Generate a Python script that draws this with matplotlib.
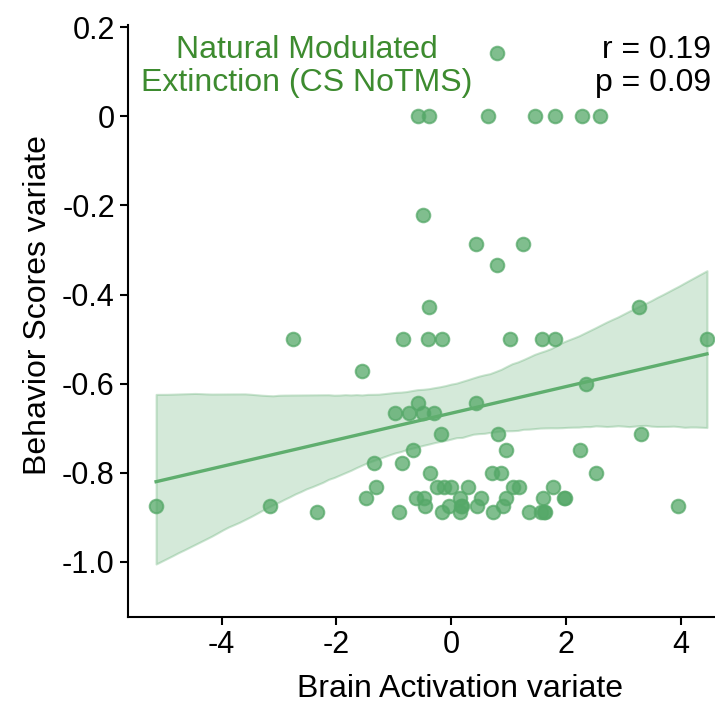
import numpy as np
import matplotlib
matplotlib.use("Agg")
import matplotlib.pyplot as plt
import seaborn as sns

# brain activation variate (x) and behaviour scores variate (y)
brain = [-0.58, -0.38, 0.65, 1.47, 1.82, 2.29, 2.60,
         0.80,
         -0.49,
         0.44, 1.25,
         0.80,
         -0.39, 3.27,
         -2.76, -0.83, -0.40, -0.15, 1.02, 1.59, 1.82, 4.46,
         -1.56,
         2.36,
         -0.57, 0.44,
         -0.97, -0.73, -0.49, -0.30,
         -0.18, 0.82, 3.31,
         -0.66, 0.96, 2.24,
         -1.34, -0.85,
         -0.36, 0.72, 0.87, 2.53,
         -1.30, -0.25, -0.12, 0.00, 0.29, 1.08, 1.19, 1.77,
         -1.49, -0.61, -0.47, 0.16, 0.53, 0.96, 1.60, 1.96, 1.98,
         -5.14, -3.15, -0.45, -0.04, 0.19, 0.46, 0.90, 3.96, 0.17,
         -2.34, -0.90, -0.16, 0.15, 0.73, 1.35, 1.57, 1.64, 1.62]
behav = [0.0, 0.0, 0.0, 0.0, 0.0, 0.0, 0.0,
         0.143,
         -0.222,
         -0.286, -0.286,
         -0.333,
         -0.429, -0.429,
         -0.5, -0.5, -0.5, -0.5, -0.5, -0.5, -0.5, -0.5,
         -0.571,
         -0.6,
         -0.643, -0.643,
         -0.667, -0.667, -0.667, -0.667,
         -0.714, -0.714, -0.714,
         -0.75, -0.75, -0.75,
         -0.778, -0.778,
         -0.8, -0.8, -0.8, -0.8,
         -0.833, -0.833, -0.833, -0.833, -0.833, -0.833, -0.833, -0.833,
         -0.857, -0.857, -0.857, -0.857, -0.857, -0.857, -0.857, -0.857, -0.857,
         -0.875, -0.875, -0.875, -0.875, -0.875, -0.875, -0.875, -0.875, -0.875,
         -0.889, -0.889, -0.889, -0.889, -0.889, -0.889, -0.889, -0.889, -0.889]

xticks = [-4, -2, 0, 2, 4]
xticklabels = ["-4", "-2", "0", "2", "4"]
yticks = [0.2, 0, -0.2, -0.4, -0.6, -0.8, -1.0]
yticklabels = ["0.2", "0", "-0.2", "-0.4", "-0.6", "-0.8", "-1.0"]

title = "Natural Modulated\nExtinction (CS NoTMS)"
stats = "r = 0.19\np = 0.09"

plt.rcParams['font.family'] = ['Liberation Sans', 'DejaVu Sans']

fig = plt.figure(figsize=(7.15, 7.05), dpi=100)
ax = fig.add_axes([0.179, 0.125, 0.821, 0.840])

# scatter + fitted line with bootstrapped CI band
sns.regplot(x=np.array(brain), y=np.array(behav), ax=ax, color="#55a868", seed=1,
            scatter_kws=dict(s=95, alpha=0.75, linewidths=1.5),
            line_kws=dict(linewidth=2.4, color="#5fae6e"))
for coll in ax.collections[1:]:
    coll.set_alpha(None)
    coll.set_facecolor((0.333, 0.659, 0.408, 0.25))
    coll.set_edgecolor((0.333, 0.659, 0.408, 0.30))
    coll.set_linewidth(1.5)

ax.set_xlim(-5.63, 4.60)
ax.set_ylim(-1.124, 0.206)
ax.set_xticks(xticks)
ax.set_xticklabels(xticklabels)
ax.set_yticks(yticks)
ax.set_yticklabels(yticklabels)
ax.tick_params(labelsize=22, length=6, width=1.5)

ax.spines['top'].set_visible(False)
ax.spines['right'].set_visible(False)
ax.spines['left'].set_linewidth(1.5)
ax.spines['bottom'].set_linewidth(1.5)

ax.set_xlabel("Brain Activation variate", fontsize=23)
ax.set_ylabel("Behavior Scores variate", fontsize=23)
# the original figure was cropped, so labels sit off the axes centre
ax.xaxis.set_label_coords(0.566, -0.097)
ax.yaxis.set_label_coords(-0.128, 0.527)

ax.text(0.305, 0.929, title, transform=ax.transAxes, ha="center", va="center",
        fontsize=23, color="#3d8b2f", linespacing=1.12)
ax.text(0.993, 0.929, stats, transform=ax.transAxes, ha="right", va="center",
        fontsize=23, color="black", linespacing=1.12)

fig.savefig("out.png", dpi=100)
plt.close(fig)
